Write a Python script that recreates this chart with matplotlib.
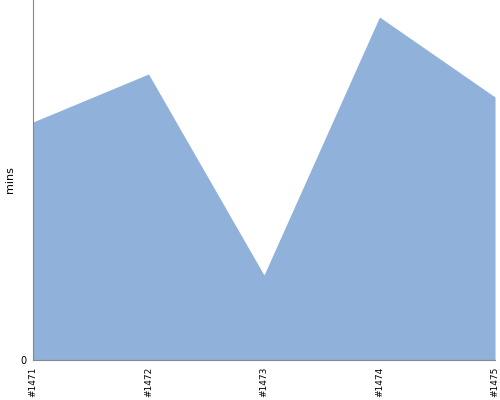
import matplotlib
matplotlib.use("Agg")
import matplotlib.pyplot as plt

builds = ["#1471", "#1472", "#1473", "#1474", "#1475"]
mins = [238, 286, 85, 343, 263]

fig = plt.figure(figsize=(5, 4), dpi=100)
ax = fig.add_axes([33 / 500, 40 / 400, 462 / 500, 360 / 400])

x = list(range(len(builds)))
ax.fill_between(x, mins, 0, color="#8fb1da", linewidth=0)

ax.set_xlim(0, len(builds) - 1)
ax.set_ylim(0, 360)
ax.set_xticks(x)
ax.set_xticklabels(builds, rotation=90, fontsize=6.5)
ax.set_yticks([0])
ax.set_yticklabels(["0"], fontsize=7)
ax.set_ylabel("mins", fontsize=8)
ax.yaxis.set_label_coords(-0.04, 0.5)
ax.tick_params(length=0, pad=5)

for side in ["top", "right"]:
    ax.spines[side].set_visible(False)
ax.spines["left"].set_color("#888888")
ax.spines["bottom"].set_color("#888888")

fig.savefig("out.png", dpi=100)
